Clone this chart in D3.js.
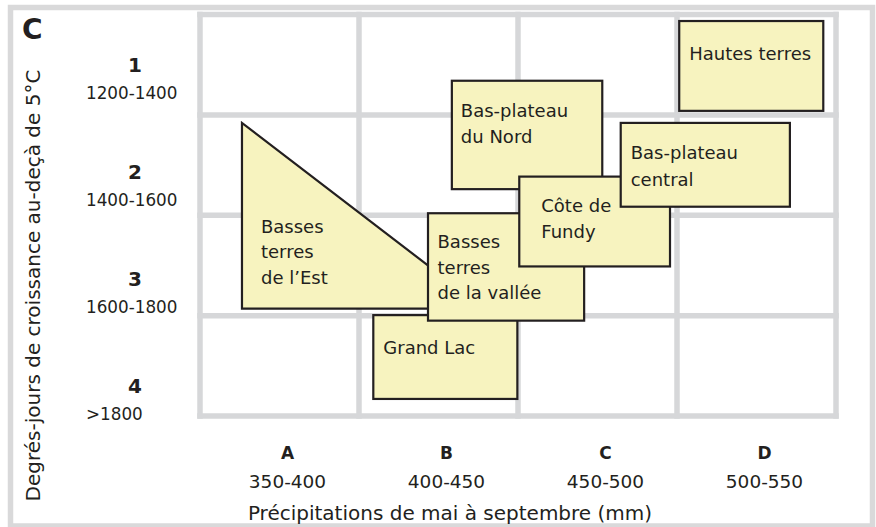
<!DOCTYPE html>
<html><head><meta charset="utf-8">
<script src="https://cdn.jsdelivr.net/npm/d3@7"></script>
<style>
html,body{margin:0;padding:0;background:#fff;}
svg{display:block;}
text{font-family:"DejaVu Sans",sans-serif;fill:#231f20;}
</style>
</head><body><svg id="chart" width="876" height="527"></svg>
<script>
// ---- data ----
const panelLabel = "C";
const colCodes = ["A", "B", "C", "D"];
const colRanges = ["350-400", "400-450", "450-500", "500-550"];
const colBreaks = [350, 400, 450, 500, 550];           // mm
const rowCodes = ["1", "2", "3", "4"];
const rowRanges = ["1200-1400", "1400-1600", "1600-1800", ">1800"];
const rowBreaks = [1200, 1400, 1600, 1800, 2000];      // degree-days
const xTitle = "Précipitations de mai à septembre (mm)";
const yTitle = "Degrés-jours de croissance au-deçà de 5°C";

// triangular region (precip mm, degree-days)
const estName = "Basses\nterres\nde l’Est";
const estPoints = [[363.2, 1416], [363.2, 1786], [439.4, 1786]];

// rectangular regions, in drawing order
const regionNames = ["Grand Lac", "Basses\nterres\nde la vallée", "Bas-plateau\ndu Nord",
                     "Côte de\nFundy", "Bas-plateau\ncentral", "Hautes terres"];
const regionPrecipMin = [404.5, 421.7, 429.2, 450.4, 482.3, 500.7];
const regionPrecipMax = [449.8, 470.8, 476.5, 497.8, 535.5, 546.0];
const regionGddMin    = [1799, 1596, 1332, 1523, 1416, 1213];
const regionGddMax    = [1966, 1810, 1548, 1702, 1583, 1392];

// ---- layout / style ----
const svg = d3.select("#chart");
const ink = "#231f20", fillC = "#f7f3bf", gridC = "#d6d7d9", frameC = "#d9d9da";

const x = d3.scaleLinear().domain([350, 550]).range([200, 836]);
const y = d3.scaleLinear().domain([1200, 2000]).range([14.5, 416]);

const labelLayout = {
  "Grand Lac": {dx: 10, dy: 38.5, lh: 26.5},
  "Basses\nterres\nde la vallée": {dx: 9.5, dy: 35, lh: 25.6},
  "Bas-plateau\ndu Nord": {dx: 9, dy: 36, lh: 26.6},
  "Côte de\nFundy": {dx: 22, dy: 35, lh: 26.6},
  "Bas-plateau\ncentral": {dx: 10, dy: 36.3, lh: 26.6},
  "Hautes terres": {dx: 10, dy: 39, lh: 26.6}
};

// outer frame
svg.append("rect").attr("x", 10.5).attr("y", 7.5).attr("width", 862).attr("height", 518.5)
  .attr("fill", "none").attr("stroke", frameC).attr("stroke-width", 5.5);

// grid
const g = svg.append("g");
g.selectAll("line.v").data(colBreaks).join("line").attr("class", "v")
  .attr("x1", d => x(d)).attr("x2", d => x(d))
  .attr("y1", y(rowBreaks[0])).attr("y2", y(rowBreaks[rowBreaks.length - 1]))
  .attr("stroke", gridC).attr("stroke-width", 5.5).attr("stroke-linecap", "square");
g.selectAll("line.h").data(rowBreaks).join("line").attr("class", "h")
  .attr("y1", d => y(d)).attr("y2", d => y(d))
  .attr("x1", x(colBreaks[0])).attr("x2", x(colBreaks[colBreaks.length - 1]))
  .attr("stroke", gridC).attr("stroke-width", 5.5).attr("stroke-linecap", "square");

// multi-line label helper
function addLabel(sel, str, x0, y0, lh) {
  const t = sel.append("text").attr("font-size", 18);
  str.split("\n").forEach((ln, i) => {
    t.append("tspan").attr("x", x0).attr("y", y0 + i * lh).text(ln);
  });
}

// triangle region
const regs = svg.append("g");
regs.append("path")
  .attr("d", d3.line().x(d => x(d[0])).y(d => y(d[1]))(estPoints) + "Z")
  .attr("fill", fillC).attr("stroke", ink).attr("stroke-width", 2.2).attr("stroke-linejoin", "miter");
addLabel(regs, estName, x(estPoints[0][0]) + 19, y(estPoints[0][1]) + 110, 25.3);

// rectangles
regionNames.forEach((name, i) => {
  const x0 = x(regionPrecipMin[i]), x1 = x(regionPrecipMax[i]);
  const y0 = y(regionGddMin[i]), y1 = y(regionGddMax[i]);
  const gg = regs.append("g");
  gg.append("rect").attr("x", x0).attr("y", y0).attr("width", x1 - x0).attr("height", y1 - y0)
    .attr("fill", fillC).attr("stroke", ink).attr("stroke-width", 2.2);
  const L = labelLayout[name];
  addLabel(gg, name, x0 + L.dx, y0 + L.dy, L.lh);
});

// row labels (y axis)
const rowBand = d3.scalePoint().domain(rowCodes).range([72, 393]);
const rowNumX = x(350) - 65, rowRangeX = x(350) - 114;
svg.append("g").selectAll("text").data(rowCodes).join("text")
  .attr("x", rowNumX).attr("y", d => rowBand(d)).attr("text-anchor", "middle")
  .attr("font-size", 20).attr("font-weight", "bold").text(d => d);
svg.append("g").selectAll("text").data(rowRanges).join("text")
  .attr("x", rowRangeX).attr("y", (d, i) => rowBand(rowCodes[i]) + 26.5)
  .attr("font-size", 16.8).text(d => d);

// column labels (x axis)
const colCenter = i => (x(colBreaks[i]) + x(colBreaks[i + 1])) / 2 + 8;
svg.append("g").selectAll("text").data(colCodes).join("text")
  .attr("x", (d, i) => colCenter(i)).attr("y", 459).attr("text-anchor", "middle")
  .attr("font-size", 17).attr("font-weight", "bold").text(d => d);
svg.append("g").selectAll("text").data(colRanges).join("text")
  .attr("x", (d, i) => colCenter(i)).attr("y", 488).attr("text-anchor", "middle")
  .attr("font-size", 18.5).text(d => d);

// axis titles
svg.append("text").attr("x", 450).attr("y", 520).attr("text-anchor", "middle")
  .attr("font-size", 20).text(xTitle);
svg.append("text").attr("transform", "translate(40,285.5) rotate(-90)").attr("text-anchor", "middle")
  .attr("font-size", 20).text(yTitle);

// panel label
svg.append("text").attr("x", 22).attr("y", 39).attr("font-size", 28).attr("font-weight", "bold")
  .text(panelLabel);
</script>
</body></html>
